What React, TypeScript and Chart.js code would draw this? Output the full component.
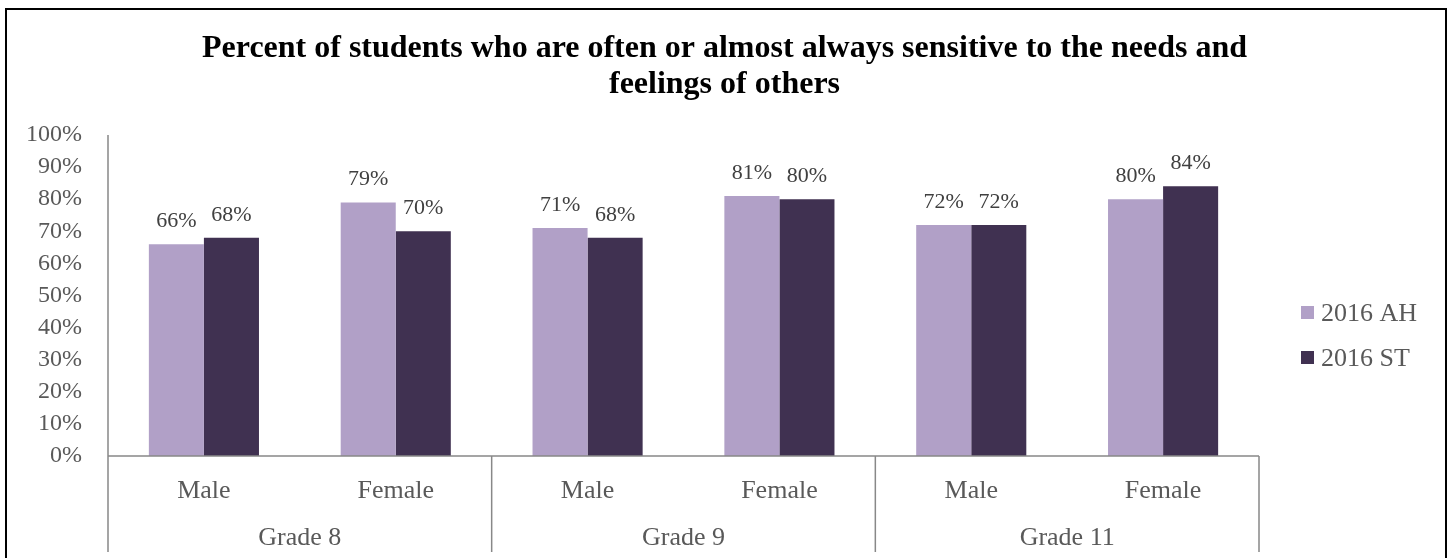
import React, { useEffect, useRef } from "react";
import { Chart, registerables } from "chart.js";

Chart.register(...registerables);

// Chart content
const titleLines = [
  "Percent of students who are often or almost always sensitive to the needs and",
  "feelings of others",
];
const categories = ["Male", "Female", "Male", "Female", "Male", "Female"];
const grades = ["Grade 8", "Grade 9", "Grade 11"];
const seriesNames = ["2016 AH", "2016 ST"];
const ahValues = [66, 79, 71, 81, 72, 80];
const stValues = [68, 70, 68, 80, 72, 84];
const yTickValues = [0, 10, 20, 30, 40, 50, 60, 70, 80, 90, 100];

const SERIF = "'Liberation Serif', 'Times New Roman', Times, serif";
const LIGHT = "#B1A0C7";
const DARK = "#403151";
const TEXT = "#595959";
const AXIS = "#888888";

const W = 1449;
const H = 558;

const decorations = {
  id: "decorations",
  afterDraw(chart: any) {
    const { ctx, chartArea, scales } = chart;
    const xs = scales.x;
    const ys = scales.y;
    const base = ys.getPixelForValue(0);
    const lowEdge = base + 96;

    ctx.save();

    // axis lines and group dividers
    ctx.strokeStyle = AXIS;
    ctx.lineWidth = 1.5;
    ctx.beginPath();
    ctx.moveTo(chartArea.left, ys.getPixelForValue(100));
    ctx.lineTo(chartArea.left, lowEdge);
    ctx.moveTo(chartArea.left, base);
    ctx.lineTo(chartArea.right, base);
    const perGroup = categories.length / grades.length;
    for (let g = 1; g <= grades.length; g++) {
      const last = g * perGroup - 1;
      const px =
        g === grades.length
          ? chartArea.right
          : (xs.getPixelForValue(last) + xs.getPixelForValue(last + 1)) / 2;
      ctx.moveTo(px, base);
      ctx.lineTo(px, lowEdge);
    }
    ctx.stroke();

    // group labels under the category labels
    ctx.fillStyle = TEXT;
    ctx.font = `26px ${SERIF}`;
    ctx.textAlign = "center";
    ctx.textBaseline = "alphabetic";
    grades.forEach((g, i) => {
      const a = xs.getPixelForValue(i * perGroup);
      const b = xs.getPixelForValue(i * perGroup + perGroup - 1);
      ctx.fillText(g, (a + b) / 2, base + 89);
    });

    // value labels above bars
    ctx.font = `22px ${SERIF}`;
    ctx.fillStyle = "#404040";
    chart.data.datasets.forEach((ds: any, di: number) => {
      const meta = chart.getDatasetMeta(di);
      meta.data.forEach((bar: any, i: number) => {
        ctx.fillText(`${ds.data[i]}%`, bar.x, bar.y - 17);
      });
    });

    // title
    ctx.fillStyle = "#000000";
    ctx.font = `bold 32px ${SERIF}`;
    titleLines.forEach((line, i) => {
      ctx.fillText(line, W / 2, 57 + i * 36);
    });

    // legend
    ctx.font = `26px ${SERIF}`;
    ctx.textAlign = "left";
    chart.data.datasets.forEach((ds: any, di: number) => {
      const top = 306 + di * 45;
      ctx.fillStyle = ds.backgroundColor;
      ctx.fillRect(1301, top, 13, 13);
      ctx.fillStyle = TEXT;
      ctx.fillText(ds.label, 1321, top + 15);
    });

    // outer frame
    ctx.strokeStyle = "#000000";
    ctx.lineWidth = 2;
    ctx.strokeRect(6, 9, 1440, 700);

    ctx.restore();
  },
};

export default function App() {
  const canvasRef = useRef<HTMLCanvasElement | null>(null);

  useEffect(() => {
    document.body.style.margin = "0";
    const canvas = canvasRef.current;
    if (!canvas) return;
    const chart = new Chart(canvas, {
      type: "bar",
      data: {
        labels: categories,
        datasets: [
          {
            label: seriesNames[0],
            data: ahValues,
            backgroundColor: LIGHT,
            categoryPercentage: 0.574,
            barPercentage: 1,
          },
          {
            label: seriesNames[1],
            data: stValues,
            backgroundColor: DARK,
            categoryPercentage: 0.574,
            barPercentage: 1,
          },
        ],
      },
      options: {
        responsive: false,
        animation: false,
        devicePixelRatio: 1,
        layout: { padding: { top: 135, left: 0, right: 190, bottom: 0 } },
        plugins: {
          legend: { display: false },
          title: { display: false },
          tooltip: { enabled: false },
        },
        scales: {
          x: {
            grid: { display: false, drawTicks: false },
            border: { display: false },
            ticks: {
              color: TEXT,
              font: { family: SERIF, size: 26 },
              padding: 20,
              maxRotation: 0,
              autoSkip: false,
            },
            afterFit(scale: any) {
              scale.height = 102;
            },
          },
          y: {
            min: 0,
            max: 100,
            afterBuildTicks(scale: any) {
              scale.ticks = yTickValues.map((v) => ({ value: v }));
            },
            grid: { display: false, drawTicks: false },
            border: { display: false },
            ticks: {
              color: TEXT,
              font: { family: SERIF, size: 24 },
              padding: 26,
              callback: (v: any) => `${v}%`,
            },
            afterFit(scale: any) {
              scale.width = 108;
            },
          },
        },
      },
      plugins: [decorations],
    });
    return () => chart.destroy();
  }, []);

  return (
    <div style={{ width: W, height: H, position: "relative", background: "#fff" }}>
      <canvas ref={canvasRef} width={W} height={H} style={{ display: "block" }} />
    </div>
  );
}
